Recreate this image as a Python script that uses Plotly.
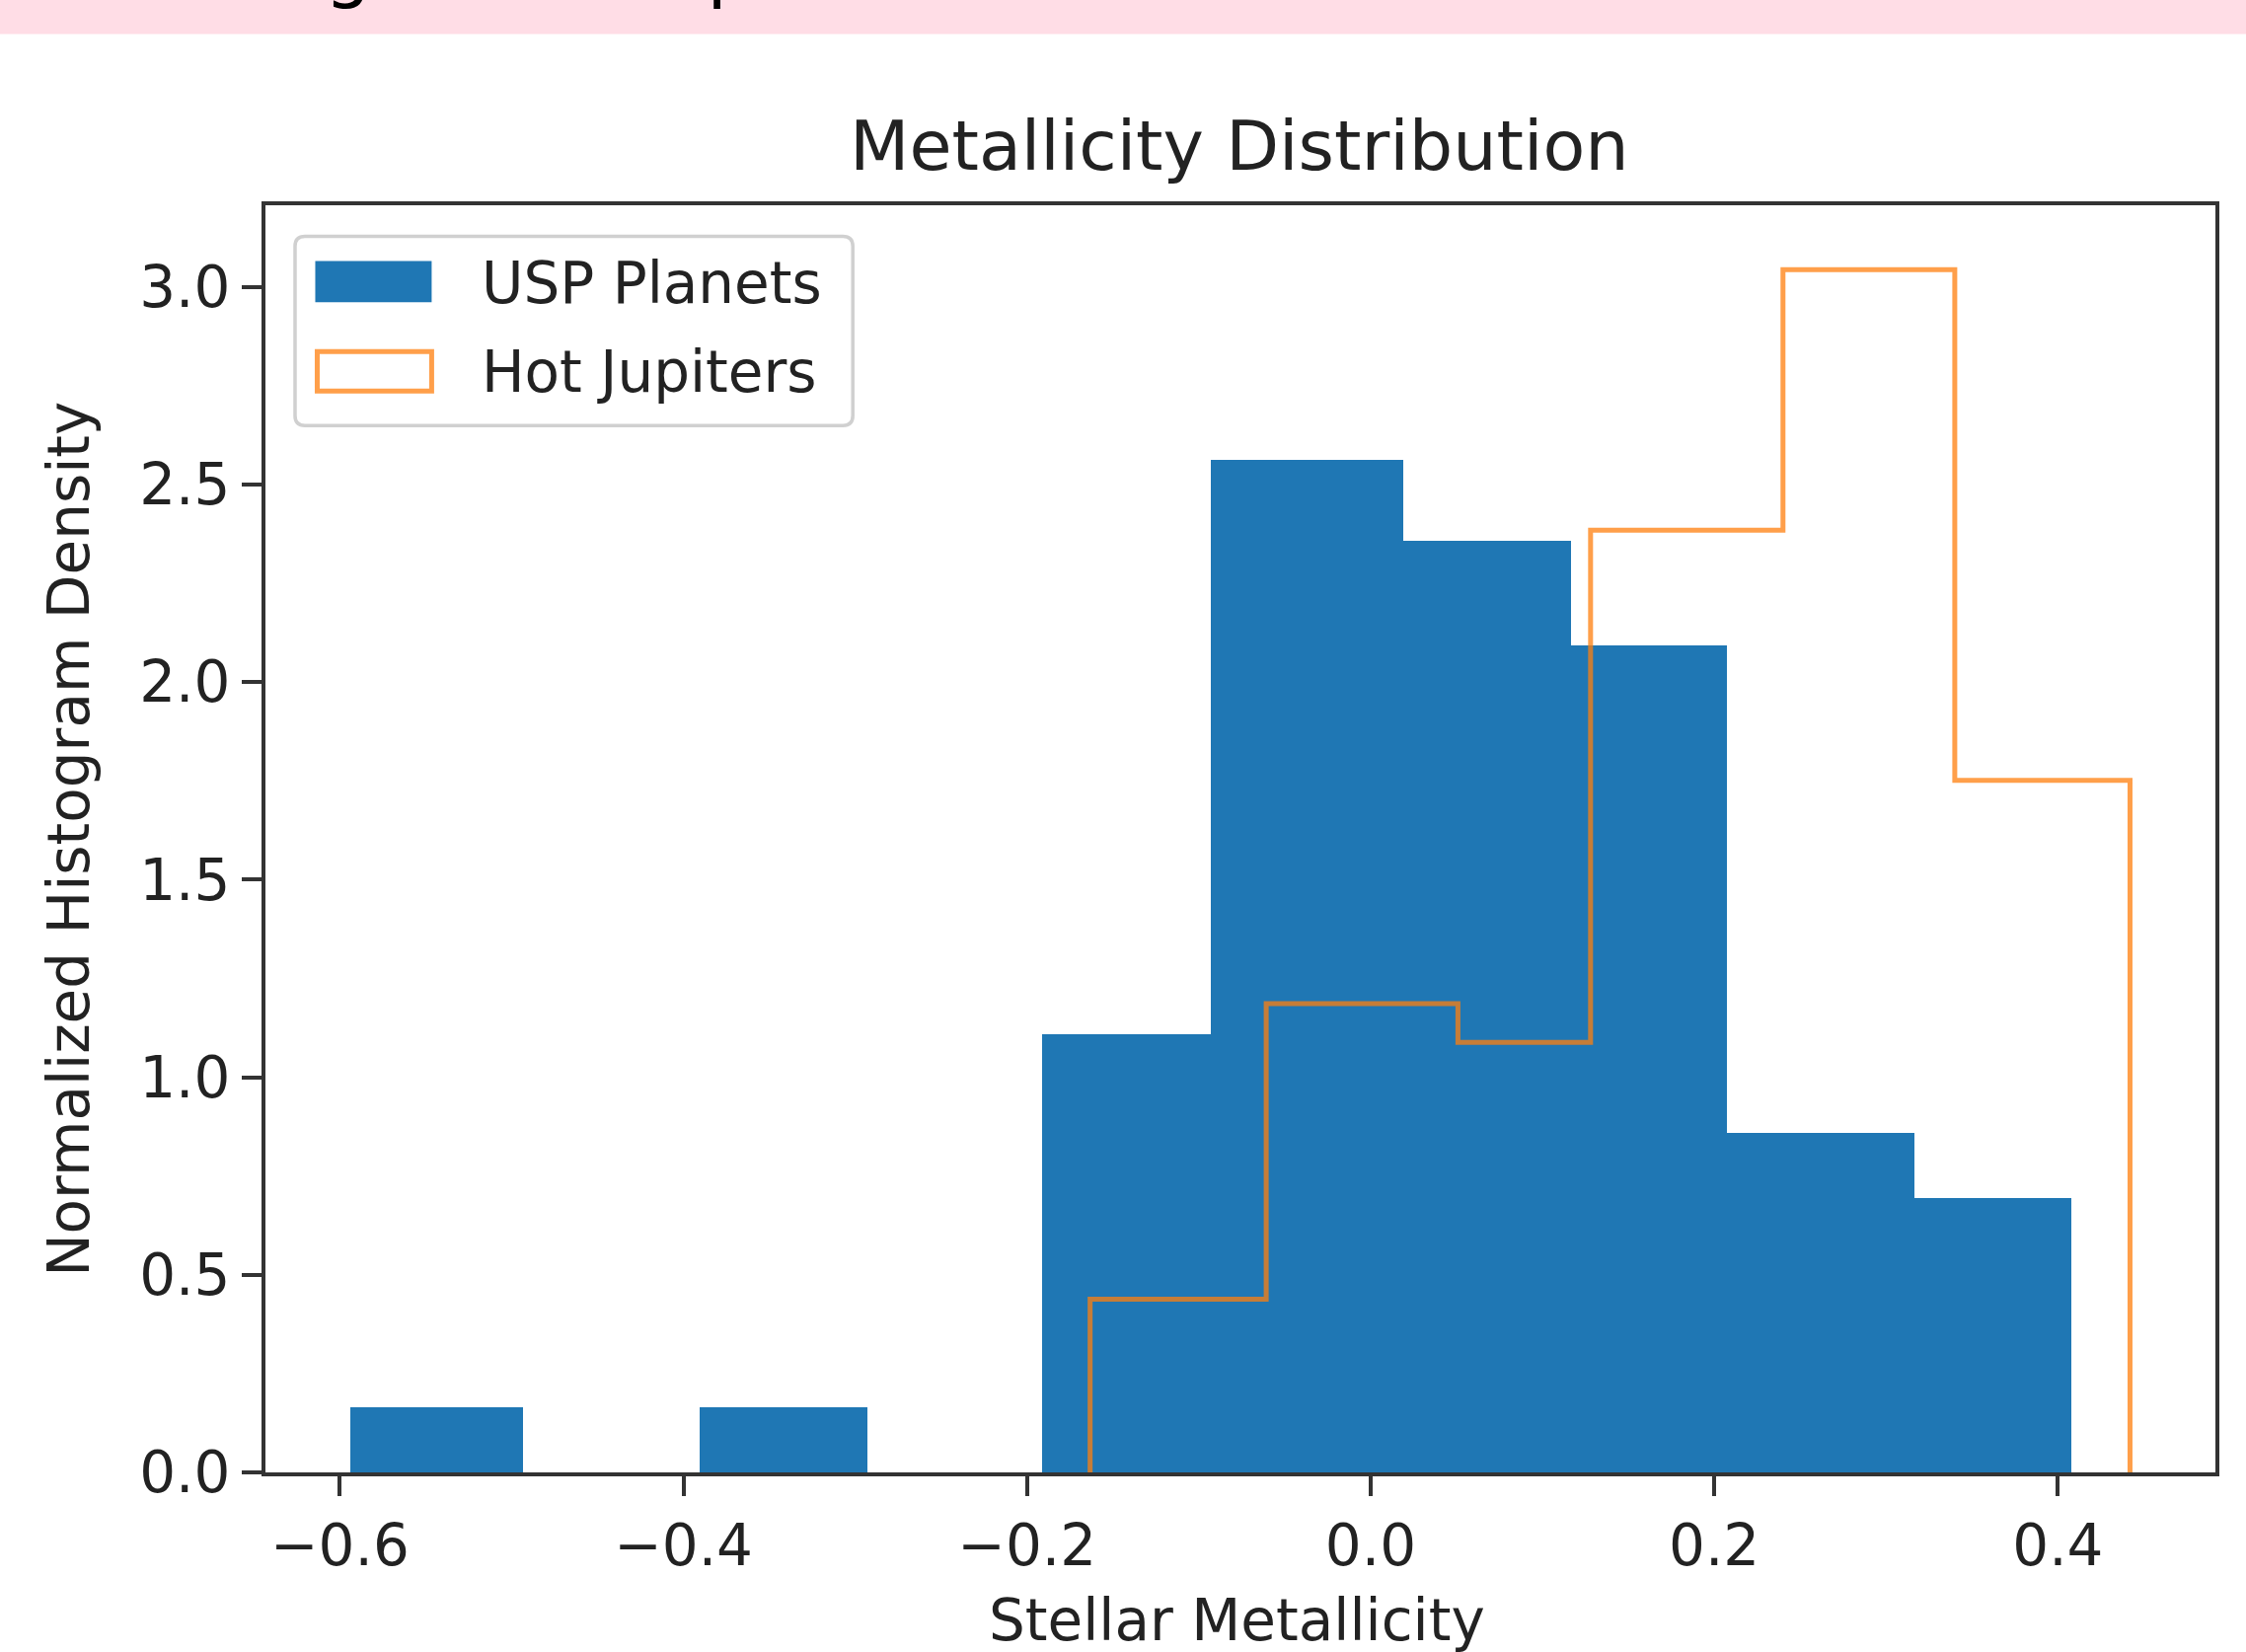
import plotly.graph_objects as go

# ---------------- data ----------------
usp_edges = [-0.5937, -0.4933, -0.3908, -0.2928, -0.1912, -0.0929, 0.0192, 0.1167, 0.2075, 0.3167, 0.408]
usp_density = [0.165, 0.0, 0.165, 0.0, 1.108, 2.562, 2.357, 2.092, 0.859, 0.694]

hj_edges = [-0.1633, -0.0608, 0.0508, 0.1280, 0.2400, 0.3400, 0.4420]
hj_density = [0.438, 1.186, 1.088, 2.384, 3.043, 1.751]

series_names = ["USP Planets", "Hot Jupiters"]

x_tickvals = [-0.6, -0.4, -0.2, 0.0, 0.2, 0.4]
x_ticktext = ["\u22120.6", "\u22120.4", "\u22120.2", "0.0", "0.2", "0.4"]
y_tickvals = [0.0, 0.5, 1.0, 1.5, 2.0, 2.5, 3.0]
y_ticktext = ["0.0", "0.5", "1.0", "1.5", "2.0", "2.5", "3.0"]

title_text = "Metallicity Distribution"
x_label = "Stellar Metallicity"
y_label = "Normalized Histogram Density"
banner_text = "Histogram Comparison"

# ---------------- styling / layout ----------------
W, H = 2276, 1674
L, R, T, B = 268.5, 2245.5, 207.6, 1492.0
PW, PH = R - L, B - T
FONT = "DejaVu Sans"
TXT = "#222222"
BLUE = "#1f77b4"
ORANGE = "rgba(255,127,14,0.75)"
SPINE = "#333333"


def px(x):
    return (x - L) / PW


def py(y):
    return (B - y) / PH


fig = go.Figure()

# USP histogram (filled bars)
centers = [(a + b) / 2 for a, b in zip(usp_edges[:-1], usp_edges[1:])]
widths = [b - a for a, b in zip(usp_edges[:-1], usp_edges[1:])]
fig.add_trace(go.Bar(
    x=centers, y=usp_density, width=widths, name=series_names[0],
    marker=dict(color=BLUE, line=dict(width=0)), showlegend=False,
))

# Hot Jupiters histogram (step outline)
step_x = [hj_edges[0]] + list(hj_edges)
step_y = [0.0] + list(hj_density) + [0.0]
fig.add_trace(go.Scatter(
    x=step_x, y=step_y, mode="lines", name=series_names[1],
    line=dict(color=ORANGE, width=5, shape="hv"), showlegend=False,
))

shapes = []
annotations = []

# pink banner at the top
shapes.append(dict(type="rect", xref="paper", yref="paper",
                   x0=px(-50), x1=px(W + 50), y0=py(34), y1=py(-50),
                   fillcolor="#ffdde6", line=dict(width=0), layer="above"))
annotations.append(dict(text=banner_text, xref="paper", yref="paper",
                        x=px(137), y=py(12), xanchor="left", yanchor="bottom",
                        showarrow=False, font=dict(family=FONT, size=74, color="#000000")))

# legend frame (rounded)
lx0, lx1, ly0, ly1, r = 298.5, 864.0, 239.0, 431.0, 10


def rpath(x0, x1, y0, y1, r):
    p = [
        f"M {px(x0 + r)} {py(y0)}",
        f"L {px(x1 - r)} {py(y0)}",
        f"Q {px(x1)} {py(y0)} {px(x1)} {py(y0 + r)}",
        f"L {px(x1)} {py(y1 - r)}",
        f"Q {px(x1)} {py(y1)} {px(x1 - r)} {py(y1)}",
        f"L {px(x0 + r)} {py(y1)}",
        f"Q {px(x0)} {py(y1)} {px(x0)} {py(y1 - r)}",
        f"L {px(x0)} {py(y0 + r)}",
        f"Q {px(x0)} {py(y0)} {px(x0 + r)} {py(y0)}",
        "Z",
    ]
    return " ".join(p)


shapes.append(dict(type="path", xref="paper", yref="paper", path=rpath(lx0, lx1, ly0, ly1, r),
                   fillcolor="rgba(255,255,255,0.8)", line=dict(color="#d0d0d0", width=3.5),
                   layer="above"))
# legend handles
shapes.append(dict(type="rect", xref="paper", yref="paper",
                   x0=px(319), x1=px(437), y0=py(306), y1=py(264),
                   fillcolor=BLUE, line=dict(width=0), layer="above"))
shapes.append(dict(type="rect", xref="paper", yref="paper",
                   x0=px(321), x1=px(437), y0=py(396), y1=py(356),
                   fillcolor="rgba(0,0,0,0)", line=dict(color=ORANGE, width=5), layer="above"))
for name, cy in zip(series_names, [287, 377]):
    annotations.append(dict(text=name, xref="paper", yref="paper", x=px(486), y=py(cy),
                            xanchor="left", yanchor="middle", showarrow=False,
                            font=dict(family=FONT, size=58, color=TXT)))

# title and axis labels
annotations.append(dict(text=title_text, xref="paper", yref="paper", x=px(1256), y=py(148),
                        xanchor="center", yanchor="middle", showarrow=False,
                        font=dict(family=FONT, size=70, color=TXT)))
annotations.append(dict(text=x_label, xref="paper", yref="paper", x=px(1253), y=py(1642),
                        xanchor="center", yanchor="middle", showarrow=False,
                        font=dict(family=FONT, size=58, color=TXT)))
annotations.append(dict(text=y_label, xref="paper", yref="paper", x=px(70), y=py(850),
                        xanchor="center", yanchor="middle", textangle=-90, showarrow=False,
                        font=dict(family=FONT, size=58, color=TXT)))

fig.update_layout(
    width=W, height=H,
    margin=dict(l=L, r=W - R, t=T, b=H - B, pad=0),
    paper_bgcolor="white", plot_bgcolor="white",
    barmode="overlay", bargap=0,
    font=dict(family=FONT, color=TXT),
    shapes=shapes, annotations=annotations,
    showlegend=False,
)
fig.update_xaxes(
    range=[-0.6433, 0.4917], tickmode="array", tickvals=x_tickvals, ticktext=x_ticktext,
    ticks="outside", ticklen=20, tickwidth=4, tickcolor=SPINE,
    showline=True, linewidth=4, linecolor=SPINE, mirror=True,
    showgrid=False, zeroline=False,
    tickfont=dict(family=FONT, size=58, color=TXT),
)
fig.update_yaxes(
    range=[0, 3.206], tickmode="array", tickvals=y_tickvals, ticktext=y_ticktext,
    ticks="outside", ticklen=20, tickwidth=4, tickcolor=SPINE,
    showline=True, linewidth=4, linecolor=SPINE, mirror=True,
    showgrid=False, zeroline=False,
    tickfont=dict(family=FONT, size=58, color=TXT),
)

fig.write_html("out.html")
